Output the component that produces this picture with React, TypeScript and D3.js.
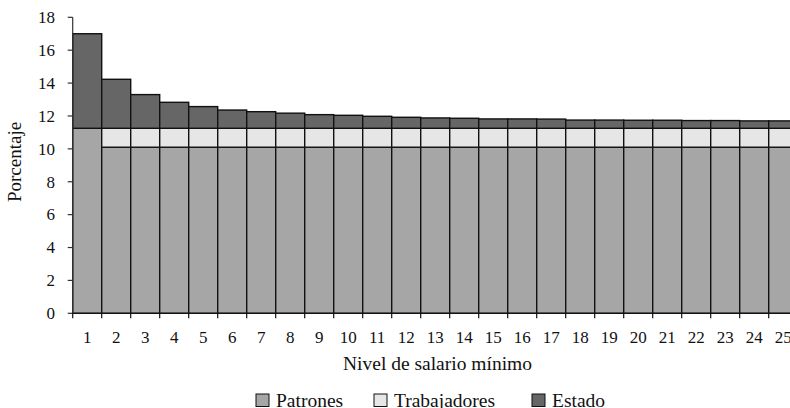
import React from "react";
import * as d3 from "d3";

const categories = Array.from({ length: 25 }, (_, i) => String(i + 1));
const patrones = [11.25, 10.1, 10.1, 10.1, 10.1, 10.1, 10.1, 10.1, 10.1, 10.1, 10.1, 10.1, 10.1, 10.1, 10.1, 10.1, 10.1, 10.1, 10.1, 10.1, 10.1, 10.1, 10.1, 10.1, 10.1];
const trabajadores = [0, 1.15, 1.15, 1.15, 1.15, 1.15, 1.15, 1.15, 1.15, 1.15, 1.15, 1.15, 1.15, 1.15, 1.15, 1.15, 1.15, 1.15, 1.15, 1.15, 1.15, 1.15, 1.15, 1.15, 1.15];
const estado = [5.75, 2.98, 2.05, 1.58, 1.32, 1.11, 1.01, 0.92, 0.83, 0.79, 0.73, 0.67, 0.63, 0.61, 0.57, 0.57, 0.56, 0.5, 0.5, 0.49, 0.49, 0.47, 0.47, 0.45, 0.45];
const yTicks = [0, 2, 4, 6, 8, 10, 12, 14, 16, 18];
const seriesNames = ["Patrones", "Trabajadores", "Estado"];
const colors = ["#a6a6a6", "#e6e6e6", "#666666"];

export default function App() {
  const W = 790, H = 408;
  const x0 = 72.7, x1 = 797.7, yTop = 17.3, yBot = 313.3;
  const x = d3.scaleBand().domain(categories).range([x0, x1]).padding(0);
  const y = d3.scaleLinear().domain([0, 18]).range([yBot, yTop]);
  const rows = categories.map((c, i) => ({ cat: c, Patrones: patrones[i], Trabajadores: trabajadores[i], Estado: estado[i] }));
  const stack = d3.stack<any>().keys(seriesNames)(rows);
  const legendX = [256, 374, 532];
  return (
    <svg width={W} height={H} style={{ position: "absolute", left: 0, top: 0, background: "#fff", fontFamily: "Liberation Serif" }}>
      {stack.map((s, si) => (
        <g key={si}>
          {s.map((d, i) => {
            const h = y(d[0]) - y(d[1]);
            if (h <= 0.01) return null;
            return (
              <rect key={i} x={x(categories[i])!} y={y(d[1])} width={x.bandwidth()} height={h}
                fill={colors[si]} stroke="#111" strokeWidth={1.4} />
            );
          })}
        </g>
      ))}
      <line x1={x0} x2={x0} y1={yTop} y2={yBot} stroke="#333" strokeWidth={1.2} />
      {yTicks.map((t) => (
        <g key={t}>
          <line x1={x0 - 5} x2={x0} y1={y(t)} y2={y(t)} stroke="#333" strokeWidth={1.2} />
          <text x={55} y={y(t)} dy="0.34em" textAnchor="end" fontSize={17} fill="#111">{t}</text>
        </g>
      ))}
      <line x1={x0} x2={x1} y1={yBot} y2={yBot} stroke="#111" strokeWidth={1.2} />
      {categories.map((c) => (
        <g key={c}>
          <line x1={x(c)!} x2={x(c)!} y1={yBot} y2={yBot + 5} stroke="#111" strokeWidth={1.2} />
          <text x={x(c)! + x.bandwidth() / 2} y={343.3} textAnchor="middle" fontSize={17} fill="#111">{c}</text>
        </g>
      ))}
      <text x={437.5} y={370} textAnchor="middle" fontSize={19.5} fill="#111">Nivel de salario mínimo</text>
      <text transform={`translate(21,162) rotate(-90)`} textAnchor="middle" fontSize={19} fill="#111">Porcentaje</text>
      {seriesNames.map((n, i) => (
        <g key={n}>
          <rect x={legendX[i]} y={394} width={13} height={12.5} fill={colors[i]} stroke="#111" strokeWidth={1} />
          <text x={legendX[i] + 20} y={406.5} fontSize={19.5} fill="#111">{n}</text>
        </g>
      ))}
    </svg>
  );
}
